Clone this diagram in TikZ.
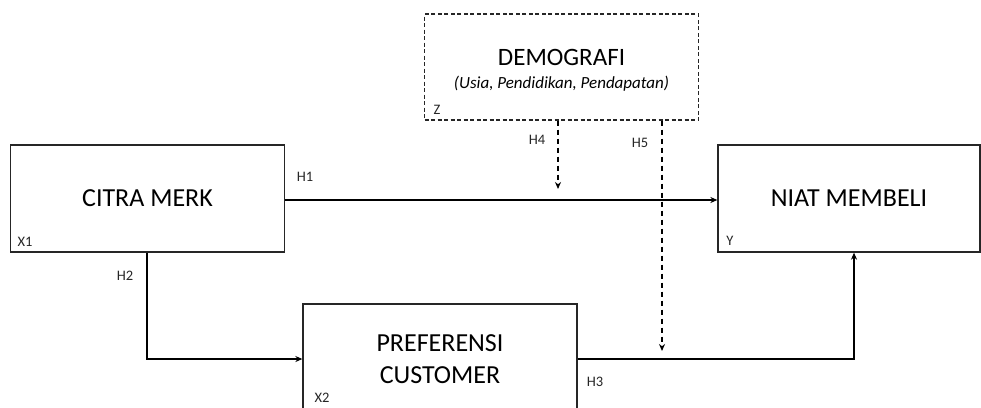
\documentclass[tikz,border=0pt]{standalone}
\usepackage{fontspec}
\setmainfont{Carlito}
\usetikzlibrary{arrows.meta}
\begin{document}
\begin{tikzpicture}[x=1pt,y=-1pt,
  box/.style={draw=black!85,line width=1.3pt,rectangle,inner sep=0pt,align=center,font=\fontsize{26}{32}\selectfont},
  dbox/.style={box,line width=1.1pt,dash pattern=on 4pt off 2.5pt},
  lbl/.style={font=\fontsize{14.5}{16}\selectfont,inner sep=0pt,text=black!85},
  conn/.style={line width=1.8pt,-{Stealth[length=7pt,width=6pt]}},
  dconn/.style={line width=1.2pt,dash pattern=on 5.5pt off 3.5pt,-{Stealth[length=7pt,width=6pt]}}]
\useasboundingbox (0,0) rectangle (981,407);
\clip (0,0) rectangle (981,407);
\fill[white] (0,0) rectangle (981,407);
\node[box,minimum width=274pt,minimum height=107pt] (citra) at (147.5,198.5) {CITRA MERK};
\node[box,minimum width=262pt,minimum height=107pt] (niat) at (849,198.5) {NIAT MEMBELI};
\node[box,minimum width=274pt,minimum height=110pt] (pref) at (440,359) {PREFERENSI\\CUSTOMER};
\node[dbox,minimum width=274pt,minimum height=106pt] (demo) at (561.5,67) {};
\node (demot) at (561.5,57) {\fontsize{25}{30}\selectfont DEMOGRAFI};
\node (demos) at (561.5,84) {\fontsize{17}{20}\selectfont\itshape (Usia, Pendidikan, Pendapatan)};
\node[lbl] (x1) at (25,242) {X1};
\node[lbl] (y) at (730,241) {Y};
\node[lbl] (z) at (437,110) {Z};
\node[lbl] (x2) at (322,398) {X2};
\coordinate (h1y) at (0,200);
\coordinate (h2x) at (147,0);
\coordinate (h3x) at (854,0);
\coordinate (h4x) at (558,0);
\coordinate (h5x) at (662,0);
\coordinate (h4end) at (558,189);
\coordinate (h5end) at (662,351);
\draw[conn] (citra.east |- h1y) -- (niat.west |- h1y);
\draw[conn] (citra.south -| h2x) |- (pref.west);
\draw[conn] (pref.east) -| (niat.south -| h3x);
\draw[dconn] (demo.south -| h4x) -- (h4end);
\draw[dconn] (demo.south -| h5x) -- (h5end);
\node[lbl] (h1) at (305,177) {H1};
\node[lbl] (h2) at (125,276) {H2};
\node[lbl] (h3) at (595,382) {H3};
\node[lbl] (h4) at (537,140) {H4};
\node[lbl] (h5) at (640,143) {H5};
\end{tikzpicture}
\end{document}
